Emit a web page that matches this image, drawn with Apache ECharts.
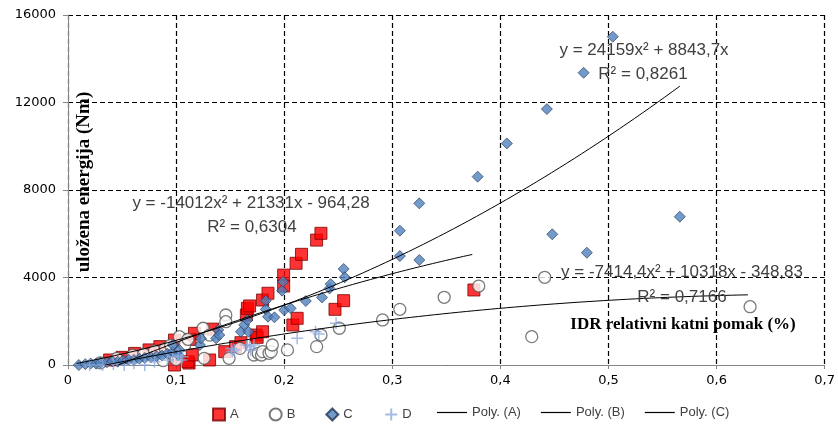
<!DOCTYPE html>
<html><head><meta charset="utf-8">
<script src="https://cdn.jsdelivr.net/npm/echarts@6/dist/echarts.min.js"></script>
<style>html,body{margin:0;padding:0;background:#fff}#c{width:838px;height:425px}</style>
</head><body><div id="c"></div>
<script>
// ---- data ----
const seriesA = [[0.0385,230],[0.050,350],[0.0616,530],[0.075,690],[0.085,840],[0.0985,1140],[0.0985,0],[0.112,90],[0.111,150],[0.115,460],[0.131,230],[0.145,610],[0.155,840],[0.160,1020],[0.113,1170],[0.117,1450],[0.134,1640],[0.165,2285],[0.166,2590],[0.168,2700],[0.174,1370],[0.175,1265],[0.180,1520],[0.180,2970],[0.185,3280],[0.1995,4110],[0.1995,3610],[0.208,1830],[0.212,2135],[0.211,4650],[0.216,5060],[0.230,5710],[0.234,6020],[0.247,2545],[0.255,2940],[0.3755,3430]];
const seriesB = [[0.030,100],[0.045,300],[0.060,450],[0.070,500],[0.080,650],[0.088,200],[0.090,760],[0.095,900],[0.100,250],[0.103,1295],[0.108,915],[0.111,1175],[0.125,1680],[0.126,305],[0.131,1370],[0.146,2285],[0.146,1980],[0.149,305],[0.159,760],[0.172,457],[0.176,535],[0.179,457],[0.180,610],[0.186,535],[0.188,610],[0.189,915],[0.203,690],[0.230,840],[0.234,1370],[0.251,1680],[0.291,2060],[0.307,2545],[0.348,3095],[0.380,3610],[0.429,1295],[0.441,4010],[0.631,2665]];
const seriesC = [[0.010,0],[0.016,40],[0.021,70],[0.026,60],[0.030,110],[0.036,130],[0.041,170],[0.046,150],[0.051,210],[0.056,240],[0.061,230],[0.066,290],[0.071,320],[0.077,350],[0.082,400],[0.087,430],[0.092,520],[0.097,600],[0.102,457],[0.103,686],[0.097,915],[0.122,915],[0.123,1220],[0.137,1220],[0.139,1600],[0.140,1370],[0.160,1520],[0.163,1830],[0.166,2060],[0.167,1520],[0.183,2940],[0.183,2545],[0.185,2210],[0.191,2180],[0.198,3400],[0.199,3810],[0.200,2510],[0.206,2590],[0.220,2925],[0.235,3090],[0.242,3500],[0.243,3700],[0.255,4390],[0.256,4010],[0.307,6140],[0.307,4980],[0.325,7390],[0.325,4800],[0.379,8610],[0.406,10130],[0.443,11700],[0.448,5975],[0.477,13360],[0.480,5135],[0.504,15006],[0.566,6780]];
const seriesD = [[0.020,0],[0.032,0],[0.042,50],[0.052,0],[0.061,80],[0.071,0],[0.080,150],[0.092,230],[0.097,380],[0.102,457],[0.105,230],[0.106,380],[0.151,760],[0.152,610],[0.154,690],[0.165,915],[0.168,840],[0.169,686],[0.172,915],[0.212,1220],[0.229,1520],[0.232,1415],[0.248,1905]];
// trendline coefficients (a, b, c) as printed on the chart, and x-range
const polyA = [-14012, 21331, -964.28]; const rangeA = [0.046, 0.374];
const polyB = [-7414.4, 10318, -348.83]; const rangeB = [0.034, 0.629];
const polyC = [24159, 8843.7, 0];       const rangeC = [0.008, 0.566];
const eqLabels = ['y = -14012x² + 21331x - 964,28','R² = 0,6304','y = 24159x² + 8843,7x','R² = 0,8261','y = -7414,4x² + 10318x - 348,83','R² = 0,7166'];
const xTicks = [0,0.1,0.2,0.3,0.4,0.5,0.6,0.7];
const yTicks = [0,4000,8000,12000,16000];

function trend(p, r){ const out=[]; const n=80; for(let i=0;i<=n;i++){const x=r[0]+(r[1]-r[0])*i/n; out.push([x,p[0]*x*x+p[1]*x+p[2]]);} return out; }

const chart = echarts.init(document.getElementById('c'), null, {renderer:'canvas'});
const tickFont = {fontFamily:'DejaVu Sans', fontSize:13, color:'#000'};
const eqStyle = {fontFamily:'Liberation Sans', fontSize:17, fill:'#404040', textAlign:'center', textVerticalAlign:'middle'};
const legFont = {fontFamily:'Liberation Sans', fontSize:13, color:'#404040'};
const lineS = (name, data) => ({name, type:'line', data, showSymbol:false, symbol:'none', lineStyle:{color:'#000', width:1}, itemStyle:{color:'#000'}, z:5, silent:true, animation:false, clip:true});

chart.setOption({
  animation:false,
  grid:{left:68, right:12, top:15, bottom:60},
  xAxis:{type:'value', min:xTicks[0], max:xTicks[xTicks.length-1], interval:0.1,
    axisLine:{show:true, lineStyle:{color:'#868686'}}, axisTick:{show:true, length:4, lineStyle:{color:'#868686'}},
    axisLabel:{...tickFont, margin:9, formatter:v=>String(Math.round(v*10)/10).replace('.',',')},
    splitLine:{show:true, lineStyle:{color:'#000', type:[5,3], width:1.2}}},
  yAxis:{type:'value', min:yTicks[0], max:yTicks[yTicks.length-1], interval:4000,
    axisLine:{show:true, lineStyle:{color:'#868686'}}, axisTick:{show:true, length:5, lineStyle:{color:'#868686'}},
    axisLabel:{...tickFont, margin:12, formatter:v=>String(v)},
    splitLine:{show:true, lineStyle:{color:'#000', type:[5,3], width:1.2}}},
  legend:[
    {data:['A','B','C','D'], left:207, top:401, itemWidth:12, itemHeight:12, itemGap:30, textStyle:legFont},
    {data:[{name:'Poly. (A)',icon:'rect'},{name:'Poly. (B)',icon:'rect'},{name:'Poly. (C)',icon:'rect'}], left:432, top:401, itemWidth:30, itemHeight:1.2, itemGap:20, textStyle:legFont}
  ],
  series:[
    {name:'A', type:'scatter', data:seriesA, symbol:'rect', symbolSize:12, itemStyle:{color:'#ff0000', borderColor:'#7a0000', borderWidth:1}, z:2},
    {name:'B', type:'scatter', data:seriesB, symbol:'circle', symbolSize:12, itemStyle:{color:'#ffffff', borderColor:'#595959', borderWidth:1.3}, z:2},
    {name:'C', type:'scatter', data:seriesC, symbol:'diamond', symbolSize:11, itemStyle:{color:'#4f81bd', borderColor:'#1f3350', borderWidth:0.8}, z:3},
    {name:'D', type:'scatter', data:seriesD, symbol:'path://M5,0L5,10M0,5L10,5', symbolSize:12, itemStyle:{color:'none', borderColor:'#8eaadc', borderWidth:1.5}, z:3},
    lineS('Poly. (A)', trend(polyA, rangeA)),
    lineS('Poly. (B)', trend(polyB, rangeB)),
    lineS('Poly. (C)', trend(polyC, rangeC))
  ],
  graphic:[
    {type:'text', x:84, y:182, rotation:Math.PI/2, z:10, style:{text:'uložena energija (Nm)', fontFamily:'Liberation Serif', fontWeight:'bold', fontSize:19, fill:'#000', textAlign:'center', textVerticalAlign:'middle'}},
    {type:'text', x:683, y:325, z:10, style:{text:'IDR relativni katni pomak (%)', fontFamily:'Liberation Serif', fontWeight:'bold', fontSize:17, fill:'#000', textAlign:'center', textVerticalAlign:'middle'}},
    {type:'text', x:251, y:203, z:10, style:{...eqStyle, text:eqLabels[0]}},
    {type:'text', x:252, y:227, z:10, style:{...eqStyle, text:eqLabels[1]}},
    {type:'text', x:644, y:50, z:10, style:{...eqStyle, text:eqLabels[2]}},
    {type:'text', x:643, y:74, z:10, style:{...eqStyle, text:eqLabels[3]}},
    {type:'text', x:682, y:272, z:10, style:{...eqStyle, text:eqLabels[4]}},
    {type:'text', x:682, y:297, z:10, style:{...eqStyle, text:eqLabels[5]}}
  ]
});
</script></body></html>
